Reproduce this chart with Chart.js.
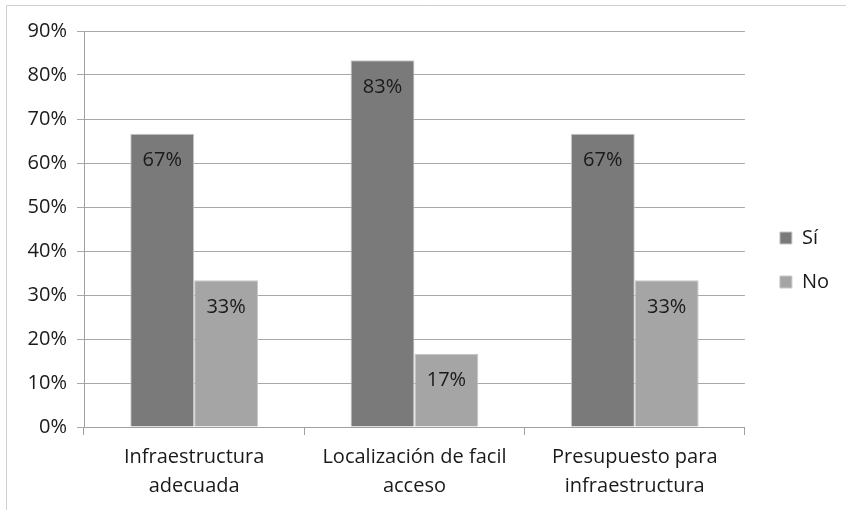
<!DOCTYPE html>
<html>
<head>
<meta charset="utf-8">
<script src="https://cdn.jsdelivr.net/npm/chart.js@4.4.1/dist/chart.umd.min.js"></script>
<style>
    html, body { margin: 0; padding: 0; background: #fff; }
    #wrap { width: 846px; height: 510px; position: relative; }
</style>
</head>
<body>
<div id="wrap"><canvas id="chart"></canvas></div>
<script>
// Datos
const categorias = [
    ['Infraestructura', 'adecuada'],
    ['Localización de facil', 'acceso'],
    ['Presupuesto para', 'infraestructura']
];
const valoresSi = [0.6667, 0.8333, 0.6667];
const valoresNo = [0.3333, 0.1667, 0.3333];
const etiquetasSerie = ['Sí', 'No'];

const fuente = "'Open Sans', 'DejaVu Sans', sans-serif";

// marco gris arriba e izquierda
const marco = {
    id: 'marco',
    beforeDraw(chart) {
        const ctx = chart.ctx;
        ctx.save();
        ctx.strokeStyle = '#d0d0d0';
        ctx.lineWidth = 1;
        ctx.beginPath();
        ctx.moveTo(6.5, 510);
        ctx.lineTo(6.5, 5.5);
        ctx.lineTo(846, 5.5);
        ctx.stroke();
        ctx.restore();
    }
};

// mover la leyenda un poco a la derecha
const leyendaDerecha = {
    id: 'leyendaDerecha',
    afterLayout(chart) {
        if (chart.legend) {
            chart.legend.left += 11;
            chart.legend.right += 11;
        }
    }
};

// etiquetas de porcentaje dentro de las barras
const etiquetas = {
    id: 'etiquetas',
    afterDatasetsDraw(chart) {
        const ctx = chart.ctx;
        ctx.save();
        ctx.font = '20px ' + fuente;
        ctx.fillStyle = '#1a1a1a';
        ctx.textAlign = 'center';
        ctx.textBaseline = 'middle';
        chart.data.datasets.forEach((ds, i) => {
            chart.getDatasetMeta(i).data.forEach((bar, j) => {
                const txt = Math.round(ds.data[j] * 100) + '%';
                ctx.fillText(txt, bar.x, bar.y + 27);
            });
        });
        ctx.restore();
    }
};

new Chart(document.getElementById('chart'), {
    type: 'bar',
    data: {
        labels: categorias,
        datasets: [
            {
                label: etiquetasSerie[0],
                data: valoresSi,
                backgroundColor: '#7a7a7a',
                borderColor: '#c8c8c8',
                borderWidth: 1
            },
            {
                label: etiquetasSerie[1],
                data: valoresNo,
                backgroundColor: '#a5a5a5',
                borderColor: '#c8c8c8',
                borderWidth: 1
            }
        ]
    },
    options: {
        responsive: true,
        maintainAspectRatio: false,
        animation: false,
        layout: { padding: { top: 31, right: 18, left: 0, bottom: 0 } },
        datasets: { bar: { categoryPercentage: 0.58, barPercentage: 1 } },
        plugins: {
            legend: {
                position: 'right',
                align: 'start',
                title: {
                    display: true,
                    text: '',
                    font: { size: 10, lineHeight: 1 },
                    padding: { top: 163, bottom: 0 }
                },
                labels: {
                    font: { family: fuente, size: 20 },
                    color: '#1a1a1a',
                    boxWidth: 12,
                    boxHeight: 12,
                    padding: 24
                }
            },
            tooltip: { enabled: false }
        },
        scales: {
            x: {
                afterFit: s => { s.height = 83; },
                grid: {
                    offset: true,
                    drawOnChartArea: false,
                    color: '#a0a0a0',
                    tickLength: 8
                },
                border: { color: '#a0a0a0' },
                ticks: {
                    font: { family: fuente, size: 20, lineHeight: 1.45 },
                    color: '#1a1a1a',
                    maxRotation: 0,
                    padding: 8
                }
            },
            y: {
                min: 0,
                max: 0.9,
                afterFit: s => { s.width = 84; },
                grid: { color: '#a8a8a8', tickLength: 7 },
                border: { color: '#a0a0a0' },
                ticks: {
                    stepSize: 0.1,
                    font: { family: fuente, size: 20 },
                    color: '#1a1a1a',
                    padding: 10,
                    callback: v => Math.round(v * 100) + '%'
                }
            }
        }
    },
    plugins: [marco, leyendaDerecha, etiquetas]
});
</script>
</body>
</html>
